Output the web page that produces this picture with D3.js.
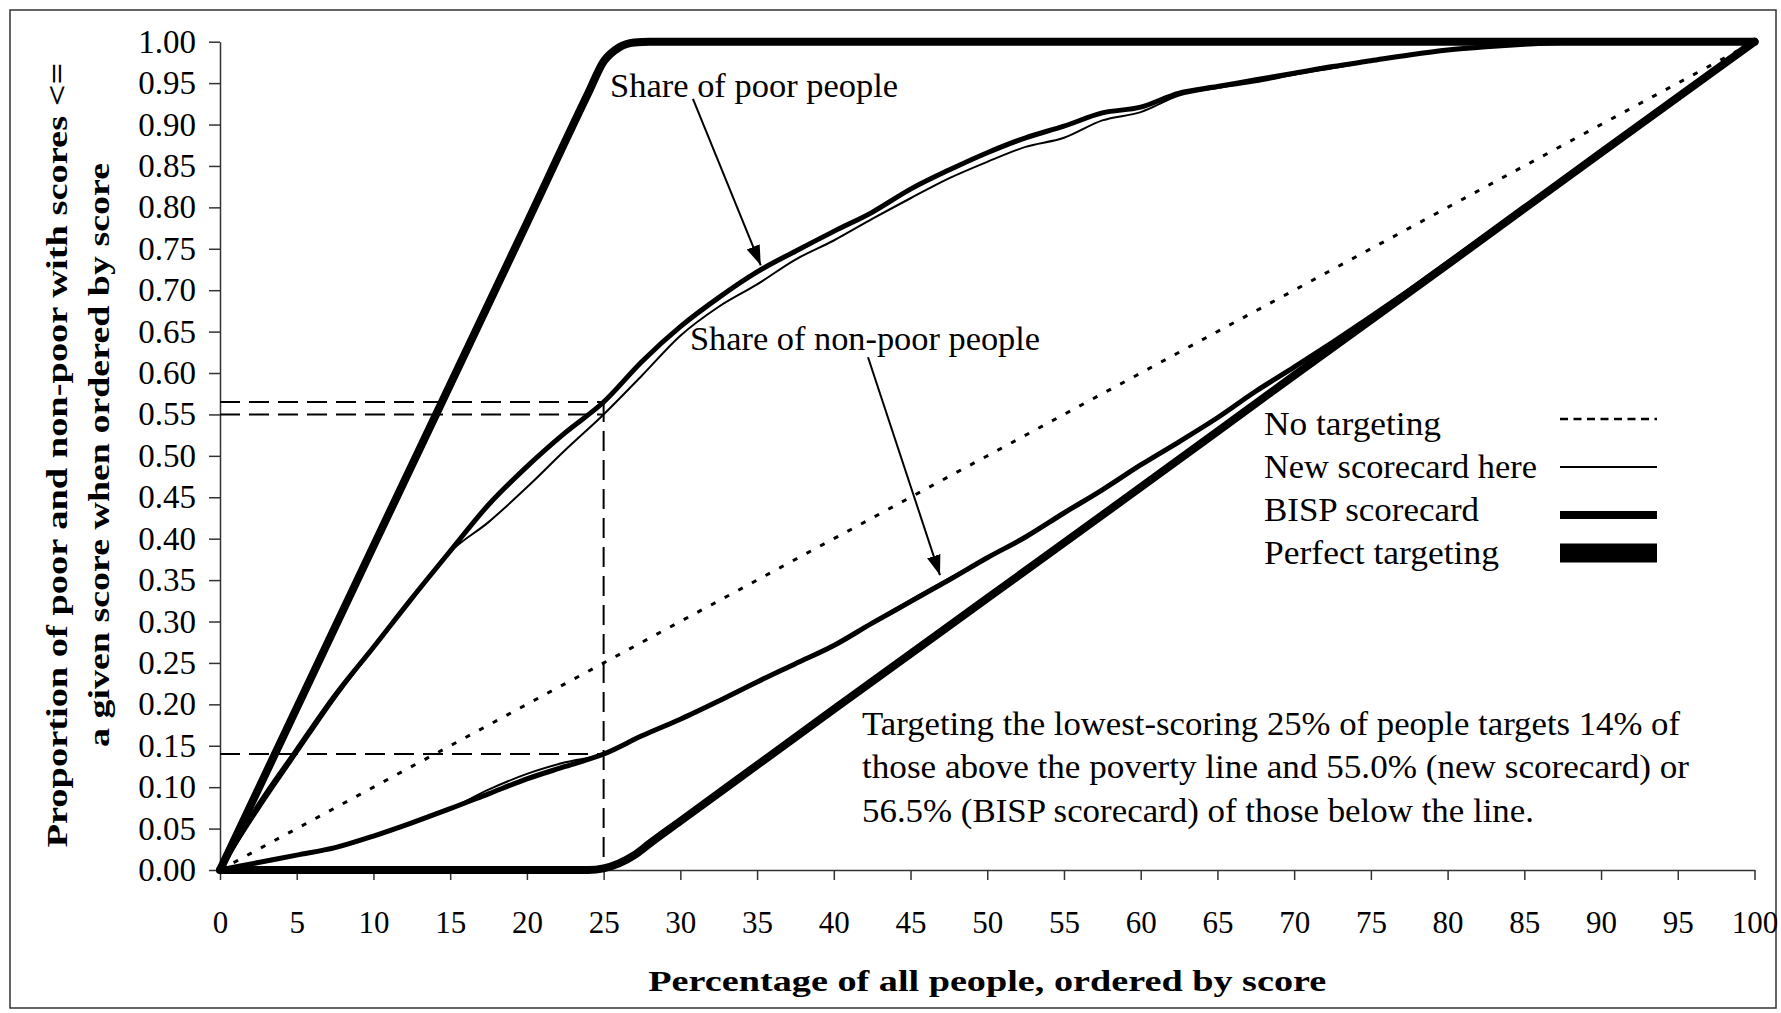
<!DOCTYPE html>
<html>
<head>
<meta charset="utf-8">
<script src="https://cdn.jsdelivr.net/npm/d3@7"></script>
<style>
  html, body { margin: 0; padding: 0; background: #fff; }
  svg { display: block; }
  text { font-family: "Liberation Serif", "Times New Roman", serif; fill: #000; }
</style>
</head>
<body>
<svg id="chart" width="1781" height="1013"></svg>
<script>
// Percentage of all people, ordered by score (x positions of the scorecard series)
const pct = [0, 2.5, 5, 7.5, 10, 12.5, 15, 17.5, 20, 22.5, 25, 27.5, 30, 32.5, 35, 37.5, 40,
  42.5, 45, 47.5, 50, 52.5, 55, 57.5, 60, 62.5, 65, 67.5, 70, 72.5, 75, 77.5, 80, 82.5, 85,
  87.5, 90, 92.5, 95, 97.5, 100];

// Cumulative share of poor people
const poorNew = [0, 0.072, 0.140, 0.207, 0.268, 0.327, 0.384, 0.420, 0.462, 0.507, 0.550,
  0.597, 0.645, 0.680, 0.707, 0.737, 0.760, 0.786, 0.811, 0.835, 0.855, 0.873, 0.884, 0.905,
  0.915, 0.935, 0.944, 0.951, 0.960, 0.968, 0.976, 0.983, 0.989, 0.993, 0.996, 0.999, 1, 1, 1, 1, 1];
const poorBISP = [0, 0.078, 0.145, 0.211, 0.269, 0.328, 0.385, 0.441, 0.487, 0.528, 0.565,
  0.614, 0.656, 0.691, 0.722, 0.747, 0.771, 0.794, 0.822, 0.845, 0.866, 0.884, 0.898, 0.914,
  0.921, 0.938, 0.946, 0.954, 0.962, 0.970, 0.977, 0.984, 0.990, 0.994, 0.997, 0.999, 1, 1, 1, 1, 1];

// Cumulative share of non-poor people
const nonpoorNew = [0, 0.009, 0.018, 0.027, 0.041, 0.057, 0.074, 0.097, 0.116, 0.130, 0.140,
  0.163, 0.183, 0.204, 0.227, 0.249, 0.271, 0.298, 0.326, 0.352, 0.377, 0.402, 0.431, 0.459,
  0.489, 0.517, 0.546, 0.578, 0.607, 0.637, 0.668, 0.700, 0.733, 0.766, 0.799, 0.832, 0.866,
  0.899, 0.933, 0.966, 1];
const nonpoorBISP = [0, 0.009, 0.018, 0.027, 0.041, 0.057, 0.074, 0.092, 0.110, 0.125, 0.140,
  0.162, 0.182, 0.204, 0.227, 0.249, 0.271, 0.298, 0.324, 0.350, 0.377, 0.402, 0.431, 0.459,
  0.489, 0.517, 0.546, 0.578, 0.607, 0.637, 0.668, 0.700, 0.733, 0.766, 0.799, 0.832, 0.866,
  0.899, 0.933, 0.966, 1];

// Perfect targeting (its own x positions, denser around the poverty line)
const perfectPct = [0, 10, 20, 24, 25, 26, 27, 28, 30, 40, 50, 60, 70, 80, 90, 100];
const poorPerfect = [0, 0.391, 0.781, 0.938, 0.976, 0.993, 0.999, 1, 1, 1, 1, 1, 1, 1, 1, 1];
const nonpoorPerfect = [0, 0, 0, 0, 0.002, 0.008, 0.018, 0.032, 0.059, 0.194, 0.328, 0.462,
  0.597, 0.731, 0.866, 1];

// No targeting: the diagonal
const noTargetX = [0, 100];
const noTargetY = [0, 1];

// Cut-off at the lowest-scoring 25% and the shares it reaches
const cutoffPct = 25;
const cutoffShares = [0.565, 0.55, 0.14];

// Tick labels
const xTicks = [0, 5, 10, 15, 20, 25, 30, 35, 40, 45, 50, 55, 60, 65, 70, 75, 80, 85, 90, 95, 100];
const yTicks = [0, 0.05, 0.10, 0.15, 0.20, 0.25, 0.30, 0.35, 0.40, 0.45, 0.50, 0.55, 0.60,
  0.65, 0.70, 0.75, 0.80, 0.85, 0.90, 0.95, 1.00];

const legendLabels = ["No targeting", "New scorecard here", "BISP scorecard", "Perfect targeting"];
const noteLines = [
  "Targeting the lowest-scoring 25% of people targets 14% of",
  "those above the poverty line and 55.0% (new scorecard) or",
  "56.5% (BISP scorecard) of those below the line."
];

// ---------------------------------------------------------------------------
const svg = d3.select("#chart");
const plot = { left: 220, right: 1754.5, top: 41.7, bottom: 870 };

const x = d3.scaleLinear().domain([0, 100]).range([plot.left, plot.right]);
const y = d3.scaleLinear().domain([0, 1]).range([plot.bottom, plot.top]);

// outer frame
svg.append("rect")
  .attr("x", 10).attr("y", 10).attr("width", 1766).attr("height", 998)
  .attr("fill", "#fff").attr("stroke", "#333").attr("stroke-width", 1.5);

// axes
const yAxis = d3.axisLeft(y).tickValues(yTicks).tickFormat(d3.format(".2f"))
  .tickSize(11).tickSizeOuter(0).tickPadding(13);
const xAxis = d3.axisBottom(x).tickValues(xTicks).tickFormat(d3.format("d"))
  .tickSize(10).tickSizeOuter(0).tickPadding(31);

const gy = svg.append("g").attr("transform", `translate(${plot.left},0)`).call(yAxis);
const gx = svg.append("g").attr("transform", `translate(0,${plot.bottom})`).call(xAxis);
[gx, gy].forEach(g => {
  g.attr("font-family", null);
  g.select(".domain").attr("stroke", "#333").attr("stroke-width", 1.5);
  g.selectAll(".tick line").attr("stroke", "#333").attr("stroke-width", 1.5);
  g.selectAll(".tick text").attr("fill", "#000");
});
gy.selectAll(".tick text").attr("font-size", 33);
gx.selectAll(".tick text").attr("font-size", 31);

// axis titles (wide bold face emulated by fixed text lengths)
svg.append("text")
  .attr("x", (plot.left + plot.right) / 2).attr("y", 991)
  .attr("text-anchor", "middle").attr("font-weight", "bold").attr("font-size", 30)
  .attr("textLength", 678).attr("lengthAdjust", "spacingAndGlyphs")
  .text("Percentage of all people, ordered by score");

const yTitle = ["Proportion of poor and non-poor with scores <=",
                "a given score when ordered by score"];
const yTitleBase = [67, 109];
const yTitleLen = [785, 584];
yTitle.forEach((t, i) => {
  svg.append("text")
    .attr("transform", `translate(${yTitleBase[i]},455) rotate(-90)`)
    .attr("text-anchor", "middle").attr("font-weight", "bold").attr("font-size", 30)
    .attr("textLength", yTitleLen[i]).attr("lengthAdjust", "spacingAndGlyphs")
    .text(t);
});

// dashed guides at the 25% cut-off
const guides = svg.append("g").attr("fill", "none").attr("stroke", "#000")
  .attr("stroke-width", 2).attr("stroke-dasharray", "20,9");
cutoffShares.forEach(v => {
  guides.append("line")
    .attr("x1", x(0)).attr("x2", x(cutoffPct)).attr("y1", y(v)).attr("y2", y(v));
});
guides.append("line")
  .attr("x1", x(cutoffPct)).attr("x2", x(cutoffPct))
  .attr("y1", y(d3.max(cutoffShares))).attr("y2", y(0));

// curves
const line = d3.line().x(d => x(d[0])).y(d => y(d[1])).curve(d3.curveMonotoneX);
const zip = (xs, ys) => xs.map((p, i) => [p, ys[i]]);

svg.append("path")
  .attr("d", line(zip(noTargetX, noTargetY)))
  .attr("fill", "none").attr("stroke", "#000").attr("stroke-width", 3)
  .attr("stroke-dasharray", "5,10.5");

const series = [
  { xs: perfectPct, ys: poorPerfect, w: 8 },
  { xs: perfectPct, ys: nonpoorPerfect, w: 8 },
  { xs: pct, ys: poorBISP, w: 5 },
  { xs: pct, ys: nonpoorBISP, w: 5 },
  { xs: pct, ys: poorNew, w: 2 },
  { xs: pct, ys: nonpoorNew, w: 2 }
];
series.forEach(s => {
  svg.append("path")
    .attr("d", line(zip(s.xs, s.ys)))
    .attr("fill", "none").attr("stroke", "#000")
    .attr("stroke-width", s.w).attr("stroke-linejoin", "round").attr("stroke-linecap", "round");
});

// annotations with arrows
const defs = svg.append("defs");
defs.append("marker")
  .attr("id", "head").attr("markerUnits", "userSpaceOnUse")
  .attr("markerWidth", 22).attr("markerHeight", 16)
  .attr("refX", 20).attr("refY", 7).attr("orient", "auto")
  .append("path").attr("d", "M0,0 L20,7 L0,14 Z").attr("fill", "#000");

const notes = [
  { text: "Share of poor people", len: 288, tx: 25.42, ty: 0.933, from: [30.82, 0.931], to: [35.24, 0.730] },
  { text: "Share of non-poor people", len: 350, tx: 30.63, ty: 0.628, from: [42.23, 0.619], to: [46.92, 0.356] }
];
notes.forEach(n => {
  svg.append("text").attr("x", x(n.tx)).attr("y", y(n.ty))
    .attr("font-size", 33).attr("textLength", n.len).attr("lengthAdjust", "spacingAndGlyphs")
    .text(n.text);
  svg.append("line")
    .attr("x1", x(n.from[0])).attr("y1", y(n.from[1]))
    .attr("x2", x(n.to[0])).attr("y2", y(n.to[1]))
    .attr("stroke", "#000").attr("stroke-width", 2).attr("marker-end", "url(#head)");
});

const noteLen = [818, 827, 672];
noteLines.forEach((t, i) => {
  svg.append("text").attr("x", 862).attr("y", 735 + i * 43.3)
    .attr("font-size", 33).attr("textLength", noteLen[i]).attr("lengthAdjust", "spacingAndGlyphs")
    .text(t);
});

// legend
const legend = svg.append("g");
const legendStyles = [
  { w: 2.5, dash: "8,5.5", ly: 419, len: 177 },
  { w: 2.2, dash: null, ly: 467, len: 273 },
  { w: 8, dash: null, ly: 515, len: 215 },
  { w: 19, dash: null, ly: 553, len: 235 }
];
legendLabels.forEach((lab, i) => {
  const st = legendStyles[i];
  legend.append("text").attr("x", 1264).attr("y", 435 + i * 43)
    .attr("font-size", 33).attr("textLength", st.len).attr("lengthAdjust", "spacingAndGlyphs")
    .text(lab);
  const l = legend.append("line")
    .attr("x1", 1560).attr("x2", 1657).attr("y1", st.ly).attr("y2", st.ly)
    .attr("stroke", "#000").attr("stroke-width", st.w);
  if (st.dash) l.attr("stroke-dasharray", st.dash);
});
</script>
</body>
</html>
